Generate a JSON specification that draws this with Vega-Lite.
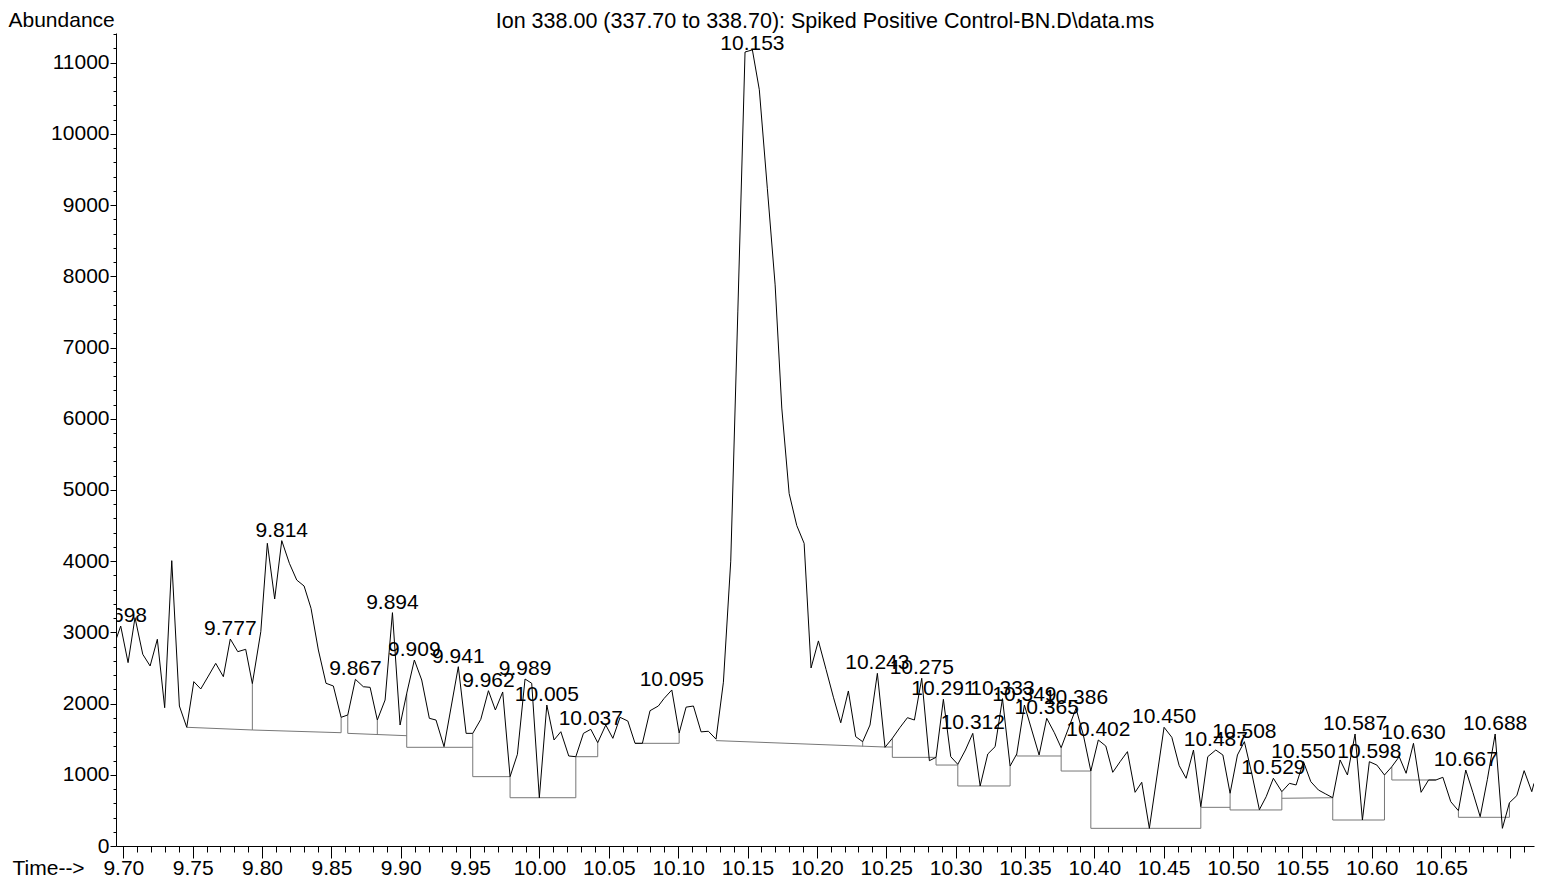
{
  "$schema": "https://vega.github.io/schema/vega-lite/v6.json",
  "width": 1418,
  "height": 813,
  "autosize": {"type": "none"},
  "padding": {"left": 116, "top": 33, "right": 9, "bottom": 31},
  "background": "white",
  "config": {
    "view": {"stroke": null},
    "font": "Liberation Sans",
    "axis": {"grid": false, "domainColor": "black", "tickColor": "black", "labelColor": "black", "titleColor": "black", "labelFont": "Liberation Sans", "titleFont": "Liberation Sans", "labelFontSize": 21, "titleFontSize": 21, "titleFontWeight": "normal", "domainWidth": 1, "tickWidth": 1, "labelOverlap": false}
  },
  "title": {"text": "Ion 338.00 (337.70 to 338.70): Spiked Positive Control-BN.D\\data.ms", "font": "Liberation Sans", "fontSize": 21.5, "fontWeight": "normal", "color": "black", "anchor": "middle", "baseline": "alphabetic", "offset": -40},
  "datasets": {
    "trace": [
      {"t": 9.6947, "v": 2900},
      {"t": 9.6981, "v": 3089, "lbl": "9.698"},
      {"t": 9.7034, "v": 2575},
      {"t": 9.7084, "v": 3207},
      {"t": 9.7140, "v": 2692},
      {"t": 9.7193, "v": 2528},
      {"t": 9.7245, "v": 2903},
      {"t": 9.7298, "v": 1942},
      {"t": 9.7349, "v": 4007},
      {"t": 9.7404, "v": 1966},
      {"t": 9.7457, "v": 1667},
      {"t": 9.7508, "v": 2308},
      {"t": 9.7558, "v": 2205},
      {"t": 9.7613, "v": 2387},
      {"t": 9.7666, "v": 2565},
      {"t": 9.7721, "v": 2378},
      {"t": 9.7771, "v": 2907, "lbl": "9.777"},
      {"t": 9.7825, "v": 2729},
      {"t": 9.7882, "v": 2762},
      {"t": 9.7930, "v": 2280},
      {"t": 9.7991, "v": 3010},
      {"t": 9.8038, "v": 4251},
      {"t": 9.8091, "v": 3469},
      {"t": 9.8142, "v": 4288, "lbl": "9.814"},
      {"t": 9.8197, "v": 3970},
      {"t": 9.8250, "v": 3735},
      {"t": 9.8303, "v": 3651},
      {"t": 9.8353, "v": 3338},
      {"t": 9.8406, "v": 2752},
      {"t": 9.8461, "v": 2285},
      {"t": 9.8514, "v": 2247},
      {"t": 9.8570, "v": 1807},
      {"t": 9.8618, "v": 1840},
      {"t": 9.8673, "v": 2341, "lbl": "9.867"},
      {"t": 9.8730, "v": 2237},
      {"t": 9.8779, "v": 2228},
      {"t": 9.8831, "v": 1769},
      {"t": 9.8887, "v": 2050},
      {"t": 9.8940, "v": 3277, "lbl": "9.894"},
      {"t": 9.8995, "v": 1699},
      {"t": 9.9043, "v": 2144},
      {"t": 9.9098, "v": 2612, "lbl": "9.909"},
      {"t": 9.9151, "v": 2331},
      {"t": 9.9206, "v": 1793},
      {"t": 9.9254, "v": 1769},
      {"t": 9.9312, "v": 1395},
      {"t": 9.9415, "v": 2518, "lbl": "9.941"},
      {"t": 9.9471, "v": 1582},
      {"t": 9.9519, "v": 1582},
      {"t": 9.9577, "v": 1779},
      {"t": 9.9632, "v": 2181, "lbl": "9.962"},
      {"t": 9.9682, "v": 1910},
      {"t": 9.9735, "v": 2163},
      {"t": 9.9788, "v": 974},
      {"t": 9.9841, "v": 1288},
      {"t": 9.9896, "v": 2345, "lbl": "9.989"},
      {"t": 9.9944, "v": 2285},
      {"t": 9.9999, "v": 678},
      {"t": 10.0053, "v": 1980, "lbl": "10.005"},
      {"t": 10.0105, "v": 1489},
      {"t": 10.0154, "v": 1605},
      {"t": 10.0211, "v": 1264},
      {"t": 10.0262, "v": 1254},
      {"t": 10.0317, "v": 1582},
      {"t": 10.0370, "v": 1639, "lbl": "10.037"},
      {"t": 10.0420, "v": 1451},
      {"t": 10.0478, "v": 1699},
      {"t": 10.0529, "v": 1512},
      {"t": 10.0581, "v": 1807},
      {"t": 10.0637, "v": 1755},
      {"t": 10.0689, "v": 1442},
      {"t": 10.0742, "v": 1442},
      {"t": 10.0797, "v": 1900},
      {"t": 10.0857, "v": 1966},
      {"t": 10.0898, "v": 2071},
      {"t": 10.0954, "v": 2191, "lbl": "10.095"},
      {"t": 10.1007, "v": 1587},
      {"t": 10.1057, "v": 1950},
      {"t": 10.1110, "v": 1966},
      {"t": 10.1165, "v": 1603},
      {"t": 10.1218, "v": 1611},
      {"t": 10.1273, "v": 1500},
      {"t": 10.1326, "v": 2300},
      {"t": 10.1379, "v": 4000},
      {"t": 10.1430, "v": 7500},
      {"t": 10.1482, "v": 11150},
      {"t": 10.1535, "v": 11180, "lbl": "10.153"},
      {"t": 10.1585, "v": 10620},
      {"t": 10.1643, "v": 9230},
      {"t": 10.1699, "v": 7880},
      {"t": 10.1747, "v": 6150},
      {"t": 10.1800, "v": 4950},
      {"t": 10.1855, "v": 4500},
      {"t": 10.1908, "v": 4250},
      {"t": 10.1958, "v": 2500},
      {"t": 10.2011, "v": 2880},
      {"t": 10.2066, "v": 2480},
      {"t": 10.2119, "v": 2090},
      {"t": 10.2172, "v": 1730},
      {"t": 10.2227, "v": 2177},
      {"t": 10.2280, "v": 1535},
      {"t": 10.2330, "v": 1465},
      {"t": 10.2383, "v": 1699},
      {"t": 10.2436, "v": 2425, "lbl": "10.243"},
      {"t": 10.2491, "v": 1386},
      {"t": 10.2544, "v": 1512},
      {"t": 10.2600, "v": 1667},
      {"t": 10.2653, "v": 1802},
      {"t": 10.2703, "v": 1769},
      {"t": 10.2756, "v": 2355, "lbl": "10.275"},
      {"t": 10.2811, "v": 1198},
      {"t": 10.2859, "v": 1245},
      {"t": 10.2912, "v": 2060, "lbl": "10.291"},
      {"t": 10.2965, "v": 1254},
      {"t": 10.3016, "v": 1147},
      {"t": 10.3071, "v": 1348},
      {"t": 10.3124, "v": 1582, "lbl": "10.312"},
      {"t": 10.3177, "v": 843},
      {"t": 10.3232, "v": 1292},
      {"t": 10.3285, "v": 1395},
      {"t": 10.3338, "v": 2069, "lbl": "10.333"},
      {"t": 10.3393, "v": 1123},
      {"t": 10.3441, "v": 1292},
      {"t": 10.3496, "v": 1980, "lbl": "10.349"},
      {"t": 10.3549, "v": 1629},
      {"t": 10.3602, "v": 1278},
      {"t": 10.3657, "v": 1793, "lbl": "10.365"},
      {"t": 10.3712, "v": 1591},
      {"t": 10.3761, "v": 1380},
      {"t": 10.3868, "v": 1933, "lbl": "10.386"},
      {"t": 10.3921, "v": 1559},
      {"t": 10.3975, "v": 1053},
      {"t": 10.4029, "v": 1489, "lbl": "10.402"},
      {"t": 10.4083, "v": 1404},
      {"t": 10.4133, "v": 1035},
      {"t": 10.4186, "v": 1184},
      {"t": 10.4239, "v": 1325},
      {"t": 10.4294, "v": 754},
      {"t": 10.4342, "v": 895},
      {"t": 10.4397, "v": 248},
      {"t": 10.4503, "v": 1667, "lbl": "10.450"},
      {"t": 10.4559, "v": 1526},
      {"t": 10.4612, "v": 1128},
      {"t": 10.4662, "v": 951},
      {"t": 10.4715, "v": 1348},
      {"t": 10.4768, "v": 552},
      {"t": 10.4818, "v": 1254},
      {"t": 10.4876, "v": 1348, "lbl": "10.487"},
      {"t": 10.4927, "v": 1278},
      {"t": 10.4979, "v": 740},
      {"t": 10.5032, "v": 1278},
      {"t": 10.5082, "v": 1465, "lbl": "10.508"},
      {"t": 10.5135, "v": 1021},
      {"t": 10.5190, "v": 510},
      {"t": 10.5239, "v": 692},
      {"t": 10.5291, "v": 951, "lbl": "10.529"},
      {"t": 10.5352, "v": 763},
      {"t": 10.5407, "v": 880},
      {"t": 10.5455, "v": 857},
      {"t": 10.5508, "v": 1184, "lbl": "10.550"},
      {"t": 10.5561, "v": 903},
      {"t": 10.5616, "v": 786},
      {"t": 10.5669, "v": 730},
      {"t": 10.5719, "v": 678},
      {"t": 10.5772, "v": 1208},
      {"t": 10.5825, "v": 997},
      {"t": 10.5880, "v": 1573, "lbl": "10.587"},
      {"t": 10.5933, "v": 365},
      {"t": 10.5983, "v": 1184, "lbl": "10.598"},
      {"t": 10.6037, "v": 1137},
      {"t": 10.6092, "v": 997},
      {"t": 10.6145, "v": 1114},
      {"t": 10.6198, "v": 1254},
      {"t": 10.6248, "v": 1021},
      {"t": 10.6301, "v": 1442, "lbl": "10.630"},
      {"t": 10.6356, "v": 754},
      {"t": 10.6410, "v": 927},
      {"t": 10.6463, "v": 927},
      {"t": 10.6513, "v": 965},
      {"t": 10.6570, "v": 622},
      {"t": 10.6625, "v": 496},
      {"t": 10.6678, "v": 1067, "lbl": "10.667"},
      {"t": 10.6729, "v": 754},
      {"t": 10.6782, "v": 412},
      {"t": 10.6834, "v": 937},
      {"t": 10.6890, "v": 1573, "lbl": "10.688"},
      {"t": 10.6942, "v": 248},
      {"t": 10.6993, "v": 608},
      {"t": 10.7046, "v": 707},
      {"t": 10.7099, "v": 1058},
      {"t": 10.7154, "v": 763},
      {"t": 10.7170, "v": 880}
    ],
    "base": [
      {"t": 9.7457, "v": 1667, "t2": 9.7930, "v2": 1629},
      {"t": 9.7930, "v": 1629, "t2": 9.7930, "v2": 2280},
      {"t": 9.7930, "v": 1629, "t2": 9.8570, "v2": 1591},
      {"t": 9.8570, "v": 1591, "t2": 9.8570, "v2": 1807},
      {"t": 9.8618, "v": 1840, "t2": 9.8618, "v2": 1582},
      {"t": 9.8618, "v": 1582, "t2": 9.9043, "v2": 1549},
      {"t": 9.8831, "v": 1559, "t2": 9.8831, "v2": 1769},
      {"t": 9.9043, "v": 2144, "t2": 9.9043, "v2": 1386},
      {"t": 9.9043, "v": 1386, "t2": 9.9519, "v2": 1386},
      {"t": 9.9519, "v": 1582, "t2": 9.9519, "v2": 974},
      {"t": 9.9519, "v": 974, "t2": 9.9788, "v2": 974},
      {"t": 9.9788, "v": 974, "t2": 9.9788, "v2": 678},
      {"t": 9.9788, "v": 678, "t2": 10.0262, "v2": 678},
      {"t": 10.0262, "v": 678, "t2": 10.0262, "v2": 1254},
      {"t": 10.0262, "v": 1254, "t2": 10.0420, "v2": 1254},
      {"t": 10.0420, "v": 1254, "t2": 10.0420, "v2": 1451},
      {"t": 10.0689, "v": 1442, "t2": 10.1007, "v2": 1442},
      {"t": 10.1007, "v": 1442, "t2": 10.1007, "v2": 1587},
      {"t": 10.1273, "v": 1480, "t2": 10.2491, "v2": 1390},
      {"t": 10.2330, "v": 1397, "t2": 10.2330, "v2": 1465},
      {"t": 10.2491, "v": 1390, "t2": 10.2544, "v2": 1390},
      {"t": 10.2544, "v": 1512, "t2": 10.2544, "v2": 1245},
      {"t": 10.2544, "v": 1245, "t2": 10.2859, "v2": 1245},
      {"t": 10.2859, "v": 1245, "t2": 10.2859, "v2": 1137},
      {"t": 10.2859, "v": 1137, "t2": 10.3016, "v2": 1137},
      {"t": 10.3016, "v": 1147, "t2": 10.3016, "v2": 843},
      {"t": 10.3016, "v": 843, "t2": 10.3393, "v2": 843},
      {"t": 10.3393, "v": 843, "t2": 10.3393, "v2": 1123},
      {"t": 10.3441, "v": 1292, "t2": 10.3441, "v2": 1264},
      {"t": 10.3441, "v": 1264, "t2": 10.3761, "v2": 1264},
      {"t": 10.3761, "v": 1380, "t2": 10.3761, "v2": 1053},
      {"t": 10.3761, "v": 1053, "t2": 10.3975, "v2": 1053},
      {"t": 10.3975, "v": 1053, "t2": 10.3975, "v2": 248},
      {"t": 10.3975, "v": 248, "t2": 10.4768, "v2": 248},
      {"t": 10.4768, "v": 248, "t2": 10.4768, "v2": 552},
      {"t": 10.4768, "v": 543, "t2": 10.4979, "v2": 543},
      {"t": 10.4979, "v": 740, "t2": 10.4979, "v2": 506},
      {"t": 10.4979, "v": 506, "t2": 10.5352, "v2": 506},
      {"t": 10.5352, "v": 506, "t2": 10.5352, "v2": 763},
      {"t": 10.5352, "v": 670, "t2": 10.5719, "v2": 678},
      {"t": 10.5719, "v": 678, "t2": 10.5719, "v2": 365},
      {"t": 10.5719, "v": 365, "t2": 10.6092, "v2": 365},
      {"t": 10.6092, "v": 365, "t2": 10.6092, "v2": 997},
      {"t": 10.6145, "v": 1114, "t2": 10.6145, "v2": 927},
      {"t": 10.6145, "v": 927, "t2": 10.6463, "v2": 927},
      {"t": 10.6625, "v": 496, "t2": 10.6625, "v2": 403},
      {"t": 10.6625, "v": 403, "t2": 10.6993, "v2": 403},
      {"t": 10.6993, "v": 403, "t2": 10.6993, "v2": 608}
    ]
  },
  "encoding": {
    "x": {
      "field": "t", "type": "quantitative",
      "scale": {"domain": [9.6947, 10.717], "nice": false, "zero": false},
      "axis": {
        "title": "Time-->",
        "titleAlign": "left", "titleAnchor": null, "titleBaseline": "alphabetic", "titleX": -104, "titleY": 28,
        "values": [9.70,9.71,9.72,9.73,9.74,9.75,9.76,9.77,9.78,9.79,9.80,9.81,9.82,9.83,9.84,9.85,9.86,9.87,9.88,9.89,9.90,9.91,9.92,9.93,9.94,9.95,9.96,9.97,9.98,9.99,10.00,10.01,10.02,10.03,10.04,10.05,10.06,10.07,10.08,10.09,10.10,10.11,10.12,10.13,10.14,10.15,10.16,10.17,10.18,10.19,10.20,10.21,10.22,10.23,10.24,10.25,10.26,10.27,10.28,10.29,10.30,10.31,10.32,10.33,10.34,10.35,10.36,10.37,10.38,10.39,10.40,10.41,10.42,10.43,10.44,10.45,10.46,10.47,10.48,10.49,10.50,10.51,10.52,10.53,10.54,10.55,10.56,10.57,10.58,10.59,10.60,10.61,10.62,10.63,10.64,10.65,10.66,10.67,10.68,10.69,10.70,10.71],
        "tickSize": {"condition": {"test": "abs(round(datum.value*100) % 5) < 0.5", "value": 12}, "value": 6},
        "labelExpr": "abs(round(datum.value*100) % 5) < 0.5 && datum.value < 10.69 ? format(datum.value, '.2f') : ''",
        "labelOverlap": false, "labelFlush": false, "labelBound": false,
        "labelBaseline": "alphabetic", "labelPadding": 16
      }
    },
    "y": {
      "field": "v", "type": "quantitative",
      "scale": {"domain": [0, 11417], "nice": false},
      "axis": {
        "title": "Abundance",
        "titleAngle": 0, "titleAlign": "left", "titleAnchor": null, "titleBaseline": "alphabetic", "titleX": -108, "titleY": -7,
        "values": [0,200,400,600,800,1000,1200,1400,1600,1800,2000,2200,2400,2600,2800,3000,3200,3400,3600,3800,4000,4200,4400,4600,4800,5000,5200,5400,5600,5800,6000,6200,6400,6600,6800,7000,7200,7400,7600,7800,8000,8200,8400,8600,8800,9000,9200,9400,9600,9800,10000,10200,10400,10600,10800,11000,11200,11400],
        "tickSize": {"condition": {"test": "datum.value % 1000 === 0", "value": 6}, "value": 3},
        "labelExpr": "datum.value % 1000 === 0 ? format(datum.value, 'd') : ''",
        "labelOverlap": false, "labelFlush": false, "labelBound": false,
        "labelPadding": 1, "labelBaseline": "middle"
      }
    }
  },
  "layer": [
    {
      "data": {"name": "base"},
      "mark": {"type": "rule", "color": "#777777", "strokeWidth": 1},
      "encoding": {
        "x2": {"field": "t2"},
        "y2": {"field": "v2"}
      }
    },
    {
      "data": {"name": "trace"},
      "mark": {"type": "line", "color": "black", "strokeWidth": 1, "clip": true},
      "encoding": {}
    },
    {
      "data": {"name": "trace"},
      "transform": [{"filter": "isValid(datum.lbl) && datum.v < 10000"}],
      "mark": {"type": "text", "font": "Liberation Sans", "fontSize": 21, "color": "black", "align": "center", "baseline": "alphabetic", "dy": -4, "clip": true},
      "encoding": {"text": {"field": "lbl"}}
    },
    {
      "data": {"name": "trace"},
      "transform": [{"filter": "isValid(datum.lbl) && datum.v >= 10000"}],
      "mark": {"type": "text", "font": "Liberation Sans", "fontSize": 21, "color": "black", "align": "center", "baseline": "alphabetic", "dy": 0},
      "encoding": {"text": {"field": "lbl"}}
    }
  ]
}
